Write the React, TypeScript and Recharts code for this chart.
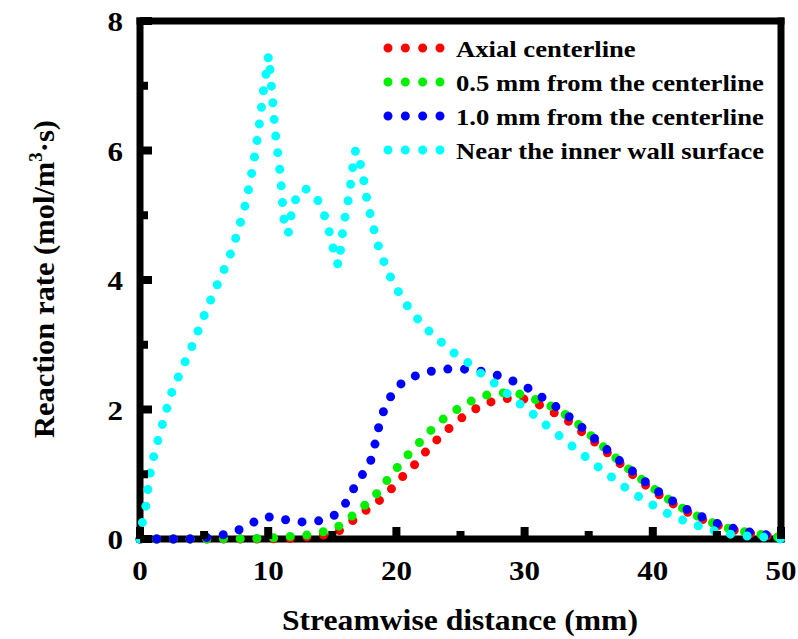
import React from 'react';
import { LineChart, Line, XAxis, YAxis, ReferenceLine } from 'recharts';

const FONT = 'Liberation Serif';

// [streamwise distance (mm), reaction rate (mol/m3.s)]
const axialCenterline: [number, number][] = [
  [0, 0], [5, 0], [10, 0], [12, 0.01], [14.3, 0.06], [15.5, 0.12], [16.5, 0.27], [17.4, 0.41],
  [18.4, 0.55], [19.3, 0.7], [20.1, 0.89], [21.3, 1.12], [22.0, 1.28], [22.6, 1.42], [23.4, 1.58],
  [24.5, 1.78], [25.5, 1.93], [26.6, 2.06], [27.55, 2.13], [28.65, 2.17], [29.8, 2.17], [30.9, 2.1],
  [32.0, 1.98], [33.1, 1.87], [34.1, 1.71], [35.1, 1.56], [36.1, 1.39], [37.0, 1.24], [38.0, 1.07],
  [38.9, 0.91], [40.0, 0.75], [41.1, 0.6], [42.2, 0.47], [43.4, 0.34], [44.5, 0.25], [45.8, 0.16],
  [47.1, 0.1], [48.5, 0.06], [49.9, 0.03],
];

const offset05: [number, number][] = [
  [0, 0], [5, 0], [10, 0.01], [11.7, 0.04], [13.0, 0.06], [14.1, 0.1], [15.3, 0.17], [16.2, 0.29],
  [17.1, 0.46], [18.0, 0.59], [18.8, 0.78], [19.5, 0.97], [20.3, 1.16], [21.2, 1.37], [21.95, 1.52],
  [22.8, 1.7], [23.75, 1.87], [24.4, 1.96], [25.4, 2.09], [26.6, 2.2], [27.6, 2.25], [28.85, 2.26],
  [29.9, 2.23], [31.0, 2.14], [32.2, 2.04], [33.2, 1.92], [34.2, 1.77], [35.1, 1.61], [36.0, 1.45],
  [37.0, 1.27], [38.0, 1.1], [39.0, 0.94], [40.0, 0.79], [41.0, 0.64], [42.1, 0.5], [43.2, 0.38],
  [44.4, 0.27], [45.6, 0.18], [46.9, 0.12], [48.1, 0.08], [49.4, 0.04], [50, 0.02],
];

const offset10: [number, number][] = [
  [0, 0], [1.2, 0], [2.5, 0], [3.8, 0], [5.1, 0.02], [6.4, 0.06], [7.5, 0.12], [8.6, 0.23],
  [9.6, 0.34], [10.6, 0.34], [11.85, 0.27], [13.1, 0.26], [14.3, 0.29], [15.4, 0.39], [16.15, 0.58],
  [16.7, 0.79], [17.37, 1.0], [17.97, 1.19], [18.3, 1.44], [18.57, 1.69], [18.93, 1.94], [19.4, 2.15],
  [19.97, 2.33], [20.8, 2.47], [21.9, 2.55], [23.1, 2.61], [24.4, 2.63], [25.7, 2.62], [26.9, 2.58],
  [28.05, 2.52], [29.1, 2.44], [30.26, 2.33], [31.27, 2.2], [32.2, 2.08], [33.15, 1.94], [34.1, 1.79],
  [35.05, 1.62], [36.0, 1.46], [36.9, 1.29], [37.9, 1.13], [38.9, 0.97], [39.8, 0.82], [40.9, 0.67],
  [42.0, 0.53], [43.1, 0.41], [44.3, 0.3], [45.5, 0.2], [46.8, 0.14], [48.0, 0.09], [49.3, 0.05], [50, 0.02],
];

const nearWall: [number, number][] = [
  [0, 0], [0.18, 0.25], [0.45, 0.5], [0.6, 0.75], [0.78, 1.0], [1.04, 1.25], [1.35, 1.49], [1.7, 1.74],
  [2.03, 1.97], [2.4, 2.23], [2.87, 2.45], [4.0, 2.95], [5.0, 3.45], [6.2, 4.01], [6.7, 4.22],
  [7.19, 4.47], [7.58, 4.72], [7.97, 4.98], [8.26, 5.2], [8.52, 5.45], [8.77, 5.71], [8.98, 5.96],
  [9.17, 6.21], [9.35, 6.47], [9.51, 6.72], [9.66, 6.98], [9.87, 7.23], [10.03, 7.47], [10.16, 7.22],
  [10.26, 6.97], [10.37, 6.72], [10.47, 6.46], [10.6, 6.19], [10.76, 5.94], [10.91, 5.69], [11.02, 5.44],
  [11.12, 5.18], [11.23, 4.93], [11.35, 4.73], [11.6, 4.74], [11.77, 4.98], [12.1, 5.23], [12.84, 5.42],
  [13.73, 5.29], [14.32, 5.04], [14.69, 4.8], [15.0, 4.56], [15.23, 4.3], [15.5, 4.23], [15.65, 4.48],
  [15.8, 4.73], [16.0, 4.98], [16.25, 5.24], [16.43, 5.48], [16.6, 5.75], [16.82, 6.01], [17.19, 5.79],
  [17.45, 5.54], [17.66, 5.29], [17.8, 5.14], [18.13, 4.88], [18.44, 4.62], [18.8, 4.4], [19.27, 4.15],
  [19.84, 3.93], [20.44, 3.72], [21.1, 3.53], [21.95, 3.33], [22.84, 3.15], [23.75, 3.0], [24.63, 2.85],
  [25.68, 2.71], [26.59, 2.56], [27.55, 2.42], [28.49, 2.27], [29.48, 2.11], [30.47, 1.96], [31.48, 1.79],
  [32.37, 1.65], [33.28, 1.5], [34.24, 1.35], [35.2, 1.2], [36.2, 1.04], [37.24, 0.89], [38.2, 0.74],
  [39.27, 0.61], [40.37, 0.48], [41.54, 0.35], [42.76, 0.26], [44.3, 0.15], [45.57, 0.09], [46.9, 0.05],
  [48.2, 0.04], [49.5, 0.01], [50, 0],
];

const xTicks = [0, 5, 10, 15, 20, 25, 30, 35, 40, 45, 50];
const yTicks = [0, 1, 2, 3, 4, 5, 6, 7, 8];

const series = [
  { name: 'Axial centerline', color: '#ff0000', points: axialCenterline },
  { name: '0.5 mm from the centerline', color: '#00ee00', points: offset05 },
  { name: '1.0 mm from the centerline', color: '#0000ff', points: offset10 },
  { name: 'Near the inner wall surface', color: '#00ffff', points: nearWall },
];

const DOTS = '0 16.7';
const txt = { fontFamily: FONT, fontWeight: 700 as const };

function XTick(props: any) {
  const { x, y, payload } = props;
  const major = payload.value % 10 === 0;
  const h = major ? 12 : 8;
  const label = String(payload.value);
  return (
    <g>
      <rect x={x - 4} y={y - h} width={8} height={h} fill="#000" />
      {major && (
        <text x={x} y={y + 41} textAnchor="middle" textLength={label.length * 15.5} lengthAdjust="spacingAndGlyphs" style={{ ...txt, fontSize: 28 }} fill="#000">
          {label}
        </text>
      )}
    </g>
  );
}

function YTick(props: any) {
  const { x, y, payload } = props;
  const major = payload.value % 2 === 0;
  const w = major ? 12 : 8;
  return (
    <g>
      <rect x={x} y={y - 4} width={w} height={8} fill="#000" />
      {major && (
        <text x={x - 17} y={y + 10} textAnchor="end" textLength={15.5} lengthAdjust="spacingAndGlyphs" style={{ ...txt, fontSize: 28 }} fill="#000">
          {payload.value}
        </text>
      )}
    </g>
  );
}

function YTitle() {
  return (
    <text transform="translate(54,279) rotate(-90)" textAnchor="middle" textLength={318} lengthAdjust="spacingAndGlyphs" style={{ ...txt, fontSize: 29 }} fill="#000">
      Reaction rate (mol/m<tspan dy={-12} style={{ fontSize: 18 }}>3</tspan><tspan dy={12}>·s)</tspan>
    </text>
  );
}

function XTitle() {
  return (
    <text x={460} y={630} textAnchor="middle" textLength={356} lengthAdjust="spacingAndGlyphs" style={{ ...txt, fontSize: 29 }} fill="#000">
      Streamwise distance (mm)
    </text>
  );
}

export default function App() {
  return (
    <div style={{ position: 'absolute', left: 0, top: 0, width: 798, height: 639, background: '#fff' }}>
      <LineChart width={798} height={639} margin={{ top: 21, right: 17, bottom: 50, left: 60 }}>
        <XAxis
          type="number"
          dataKey="x"
          domain={[0, 50]}
          ticks={xTicks}
          interval={0}
          height={50}
          tickSize={0}
          tickMargin={0}
          axisLine={false}
          tick={<XTick />}
          label={<XTitle />}
        />
        <YAxis
          type="number"
          domain={[0, 8]}
          ticks={yTicks}
          interval={0}
          width={80}
          tickSize={0}
          tickMargin={0}
          axisLine={false}
          tick={<YTick />}
          label={<YTitle />}
        />
        <ReferenceLine x={0} stroke="#000" strokeWidth={7} strokeLinecap="square" />
        <ReferenceLine x={50} stroke="#000" strokeWidth={7} strokeLinecap="square" />
        <ReferenceLine y={0} stroke="#000" strokeWidth={7} strokeLinecap="square" />
        <ReferenceLine y={8} stroke="#000" strokeWidth={7} strokeLinecap="square" />
        {series.map(s => (
          <Line
            key={s.name}
            name={s.name}
            data={s.points.map(([x, y]) => ({ x, y }))}
            dataKey="y"
            type="linear"
            stroke={s.color}
            strokeWidth={9}
            strokeDasharray={DOTS}
            strokeLinecap="round"
            dot={false}
            activeDot={false}
            isAnimationActive={false}
          />
        ))}
      </LineChart>
      <svg width={798} height={639} style={{ position: 'absolute', left: 0, top: 0, pointerEvents: 'none' }}>
        {series.map((s, i) => {
          const cy = 48 + i * 34;
          return (
            <g key={s.name}>
              <line x1={388} y1={cy} x2={440} y2={cy} stroke={s.color} strokeWidth={9} strokeLinecap="round" strokeDasharray="0 17.33" />
              <text transform={`translate(456,${cy + 8.5}) scale(1.11,1)`} style={{ ...txt, fontSize: 24 }} fill="#000">
                {s.name}
              </text>
            </g>
          );
        })}
      </svg>
    </div>
  );
}
